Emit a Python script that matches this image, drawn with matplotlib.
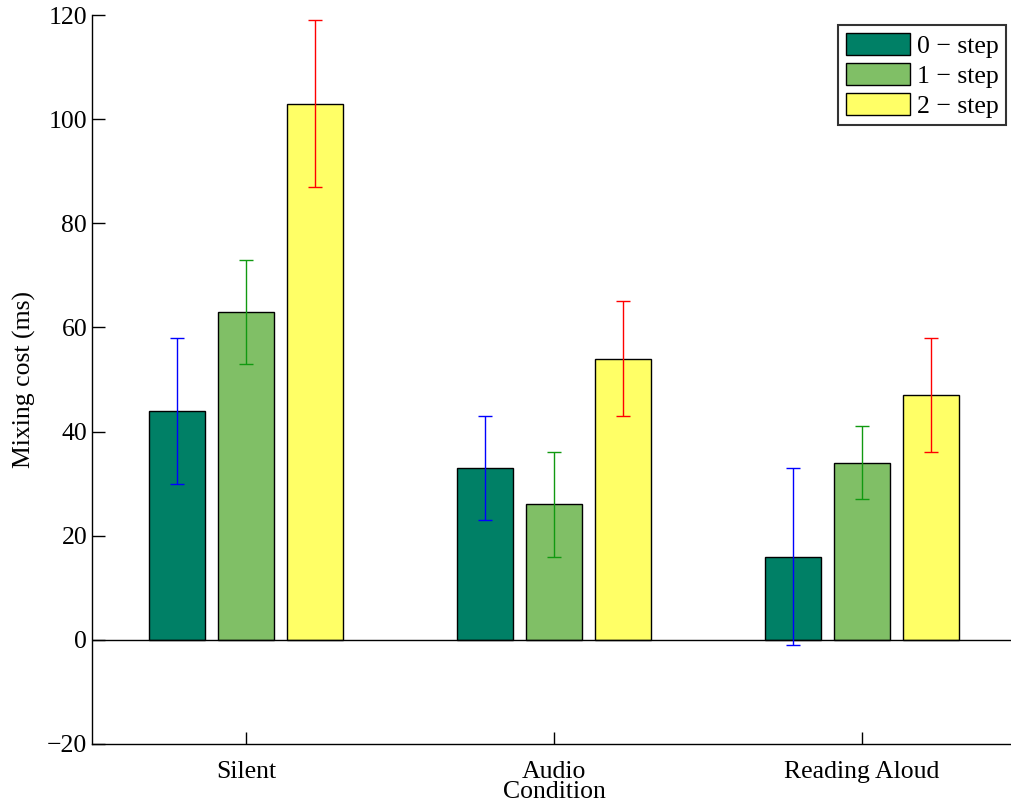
import matplotlib
matplotlib.use("Agg")
import matplotlib.pyplot as plt
import numpy as np

plt.rcParams['font.family'] = ['Liberation Serif', 'DejaVu Serif']

categories = ['Silent', 'Audio', 'Reading Aloud']
series_labels = ['0 \u2212 step', '1 \u2212 step', '2 \u2212 step']
means = {
    '0 \u2212 step': [44, 33, 16],
    '1 \u2212 step': [63, 26, 34],
    '2 \u2212 step': [103, 54, 47],
}
errors = {
    '0 \u2212 step': [14, 10, 17],
    '1 \u2212 step': [10, 10, 7],
    '2 \u2212 step': [16, 11, 11],
}
bar_colors = ['#008066', '#80BF66', '#FFFF66']
err_colors = ['#0000FF', '#119911', '#FF0000']

fig = plt.figure(figsize=(10.12, 8.07), dpi=100)
ax = fig.add_axes([92/1012, 63/807, (1016-92)/1012, (792-63)/807])

x = np.arange(1, len(categories) + 1)
offset = 0.2235
width = 0.18
for i, lab in enumerate(series_labels):
    xpos = x + (i - 1) * offset
    ax.bar(xpos, means[lab], width, color=bar_colors[i], edgecolor='black',
           linewidth=1.0, label=lab, zorder=2)
for i, lab in enumerate(series_labels):
    xpos = x + (i - 1) * offset
    ax.errorbar(xpos, means[lab], yerr=errors[lab], fmt='none',
                ecolor=err_colors[i], elinewidth=1.0, capsize=4.7,
                capthick=1.0, zorder=4)

ax.axhline(0, color='black', linewidth=1.0, zorder=3)
ax.set_xlim(0.5, 3.5)
ax.set_ylim(-20, 120)
ax.set_yticks(np.arange(-20, 121, 20))
ax.set_yticklabels(['\u221220', '0', '20', '40', '60', '80', '100', '120'])
ax.set_xticks(x)
ax.set_xticklabels(categories)
ax.tick_params(direction='in', length=9, width=1.0, labelsize=18.5,
               top=False, right=False)
ax.tick_params(axis='x', pad=12)
for s in ['top', 'right']:
    ax.spines[s].set_visible(False)
for s in ['left', 'bottom']:
    ax.spines[s].set_linewidth(1.0)

ax.set_ylabel('Mixing cost (ms)', fontsize=18.5, labelpad=8)
ax.set_xlabel('Condition', fontsize=18.5, labelpad=-1)

leg = ax.legend(loc='upper right', bbox_to_anchor=(1006/1012, (807-25)/807),
                bbox_transform=fig.transFigure, fontsize=18.5, frameon=True,
                fancybox=False, edgecolor='black', handlelength=2.5,
                handleheight=0.95, handletextpad=0.25, labelspacing=0.2,
                borderpad=0.3, borderaxespad=0)
leg.get_frame().set_linewidth(1.5)

fig.savefig('out.png', dpi=100)
